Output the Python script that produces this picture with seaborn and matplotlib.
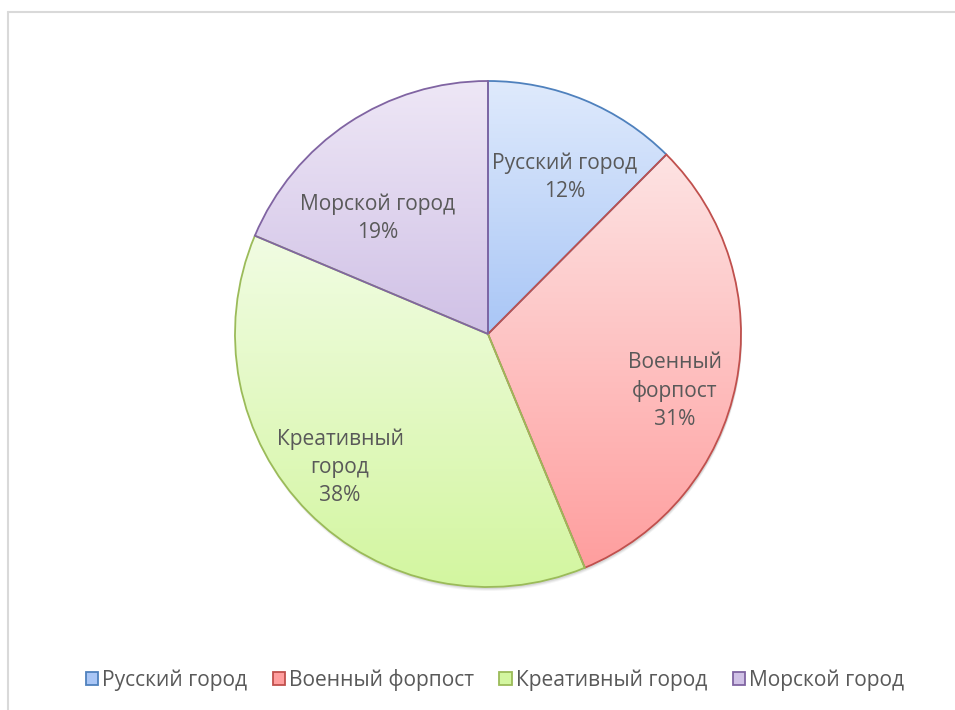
import numpy as np
import matplotlib
matplotlib.use("Agg")
import matplotlib.pyplot as plt
import seaborn as sns
from matplotlib.patches import Patch
from matplotlib.lines import Line2D
from matplotlib.colors import LinearSegmentedColormap

# данные
categories = ["Русский город", "Военный форпост", "Креативный город", "Морской город"]
label_text = ["Русский город", "Военный\nфорпост", "Креативный\nгород", "Морской город"]
shares = [12.45, 31.3, 37.6, 18.65]

# стиль (Excel-подобная палитра)
edge_colors = ["#4f81bd", "#c0504d", "#9bbb59", "#8064a2"]
top_colors = ["#dfeafc", "#fde3e3", "#f1fce3", "#eee7f6"]
bottom_colors = ["#a9c6f6", "#ff9e9e", "#d3f6a0", "#d0c1e6"]
# подгонка положения подписей: доля радиуса и сдвиг угла
label_r = [0.69, 0.773, 0.787, 0.632]
label_dtheta = [-3.7, -5.8, -2.8, 9.9]

sns.set_theme(style="white")
plt.rcParams["font.family"] = ["Open Sans", "DejaVu Sans"]
text_color = "#595959"
fs = 15.1

W, H = 955, 710
fig = plt.figure(figsize=(W / 100, H / 100), dpi=100)
ax = fig.add_axes([0, 0, 1, 1])

cx, cy, R = 488, H - 334, 253

# лёгкая тень снизу справа
for k, a in [(4, 0.04), (3, 0.05), (2, 0.07)]:
    ax.add_patch(plt.Circle((cx + 1, cy - k), R, color="#000000", alpha=a, lw=0, zorder=0.5))

wedges, _ = ax.pie(shares, startangle=90, counterclock=False, center=(cx, cy),
                   radius=R, frame=True, wedgeprops=dict(linewidth=1.3))
ax.set_xlim(0, W)
ax.set_ylim(0, H)
ax.set_aspect("equal")
ax.axis("off")

total = sum(shares)
for i, w in enumerate(wedges):
    w.set_edgecolor(edge_colors[i])
    w.set_facecolor("none")
    w.set_zorder(3)
    # градиент внутри сектора
    ext = w.get_path().get_extents()
    cmap = LinearSegmentedColormap.from_list("g%d" % i, [bottom_colors[i], top_colors[i]])
    grad = np.linspace(0, 1, 256).reshape(-1, 1)
    im = ax.imshow(grad, cmap=cmap, origin="lower",
                   extent=(ext.x0, ext.x1, ext.y0, ext.y1),
                   aspect="auto", zorder=2, interpolation="bilinear")
    im.set_clip_path(w)

    mid = (w.theta1 + w.theta2) / 2 + label_dtheta[i]
    lx = cx + label_r[i] * R * np.cos(np.radians(mid))
    ly = cy + label_r[i] * R * np.sin(np.radians(mid))
    pct = round(shares[i] / total * 100)
    ax.text(lx, ly, f"{label_text[i]}\n{pct}%", ha="center", va="center",
            fontsize=fs, color=text_color, linespacing=1.42, zorder=5)

ax.set_xlim(0, W)
ax.set_ylim(0, H)

handles = [Patch(facecolor=bottom_colors[i], edgecolor=edge_colors[i], linewidth=1.3)
           for i in range(len(categories))]
fig.legend(handles, categories, loc="center", bbox_to_anchor=(495 / W, 1 - 680 / H),
           ncol=4, frameon=False, fontsize=fs, labelcolor=text_color,
           handlelength=0.6, handleheight=0.6, handletextpad=0.2, columnspacing=1.2)

# рамка области диаграммы
fig.add_artist(Line2D([8 / W, 8 / W], [0, 1 - 12 / H], color="#d9d9d9", lw=1.5))
fig.add_artist(Line2D([8 / W, 1], [1 - 12 / H, 1 - 12 / H], color="#d9d9d9", lw=1.5))

fig.savefig("out.png", dpi=100)
